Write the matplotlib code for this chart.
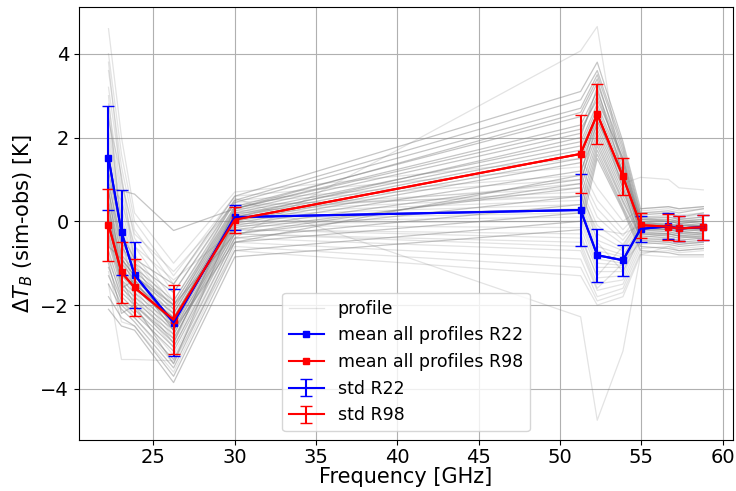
import numpy as np
import matplotlib
matplotlib.use("Agg")
import matplotlib.pyplot as plt

freq = [22.24, 23.04, 23.84, 26.24, 30.0, 51.26, 52.28, 53.86, 54.94, 56.66, 57.3, 58.8]

mean_r22 = [1.52, -0.26, -1.28, -2.42, 0.10, 0.27, -0.81, -0.93, -0.18, -0.12, -0.17, -0.14]
std_r22 = [1.24, 1.01, 0.78, 0.80, 0.30, 0.86, 0.63, 0.37, 0.31, 0.31, 0.30, 0.30]
mean_r98 = [-0.08, -1.22, -1.58, -2.35, 0.04, 1.61, 2.56, 1.07, -0.09, -0.13, -0.17, -0.14]
std_r98 = [0.86, 0.72, 0.69, 0.82, 0.31, 0.93, 0.72, 0.45, 0.30, 0.31, 0.30, 0.30]

# single profiles, R22 absorption model (lighter bundle)
prof_r22 = [
    [4.6, 2.0, 0.2, -1.0, 0.7, 1.5, 0.8, 0.0, 0.3, 0.35, 0.3, 0.35],
    [4.0, 1.6, 0.0, -1.3, 0.6, 1.3, 0.5, -0.2, 0.25, 0.3, 0.25, 0.3],
    [3.6, 1.3, -0.2, -1.5, 0.5, 1.1, 0.3, -0.35, 0.2, 0.2, 0.15, 0.2],
    [3.2, 1.0, -0.4, -1.7, 0.45, 1.0, 0.1, -0.45, 0.1, 0.15, 0.1, 0.15],
    [2.8, 0.7, -0.6, -1.9, 0.35, 0.8, -0.1, -0.55, 0.05, 0.1, 0.05, 0.1],
    [2.5, 0.5, -0.8, -2.0, 0.3, 0.7, -0.3, -0.65, 0.0, 0.05, 0.0, 0.05],
    [2.2, 0.3, -0.9, -2.1, 0.25, 0.6, -0.45, -0.7, -0.05, 0.0, -0.05, 0.0],
    [2.0, 0.1, -1.0, -2.2, 0.2, 0.5, -0.6, -0.8, -0.1, -0.05, -0.1, -0.05],
    [1.8, 0.0, -1.1, -2.3, 0.15, 0.4, -0.7, -0.85, -0.1, -0.1, -0.15, -0.1],
    [1.6, -0.2, -1.2, -2.4, 0.1, 0.3, -0.8, -0.9, -0.15, -0.1, -0.15, -0.15],
    [1.4, -0.3, -1.3, -2.5, 0.05, 0.2, -0.9, -1.0, -0.2, -0.15, -0.2, -0.15],
    [1.2, -0.5, -1.4, -2.6, 0.0, 0.1, -1.0, -1.05, -0.2, -0.2, -0.25, -0.2],
    [1.0, -0.6, -1.5, -2.7, -0.05, 0.0, -1.1, -1.1, -0.25, -0.25, -0.3, -0.25],
    [0.7, -0.8, -1.6, -2.8, -0.1, -0.15, -1.2, -1.2, -0.3, -0.3, -0.35, -0.3],
    [0.4, -1.0, -1.8, -2.9, -0.2, -0.3, -1.35, -1.3, -0.35, -0.35, -0.4, -0.35],
    [0.1, -1.2, -1.9, -3.0, -0.3, -0.5, -1.5, -1.4, -0.45, -0.4, -0.45, -0.4],
    [-0.3, -1.5, -2.1, -3.2, -0.4, -0.7, -1.65, -1.5, -0.55, -0.5, -0.55, -0.5],
    [-0.8, -1.9, -2.3, -3.4, -0.5, -0.9, -1.8, -1.6, -0.65, -0.6, -0.65, -0.6],
    [-1.2, -2.4, -2.5, -3.6, -0.6, -1.1, -1.9, -1.7, -0.75, -0.7, -0.75, -0.7],
    [-1.5, -3.3, -3.3, -3.33, -0.7, -1.3, -2.0, -1.8, -0.8, -0.85, -0.85, -0.85],
    [3.0, -0.4, -1.7, -2.9, 0.2, 0.9, -0.5, -1.2, -0.4, -0.3, -0.3, -0.35],
    [0.9, 0.5, -0.6, -1.4, -0.2, -0.4, -1.3, -0.6, 0.1, 0.0, 0.05, 0.0],
    [3.8, 0.9, -0.3, -1.2, 0.4, 0.6, -0.2, -0.3, -0.1, -0.2, -0.15, -0.2],
    [2.6, -0.1, -1.3, -2.5, -0.3, -0.6, -1.6, -1.0, -0.5, -0.45, -0.5, -0.5],
    [2.4, 1.1, -1.0, -2.6, -0.4, 4.07, 4.65, 0.9, 1.05, 1.0, 0.8, 0.75],
    [1.1, -0.9, -1.5, -2.2, 0.55, -2.28, -4.75, -3.1, -0.8, -0.6, -0.7, -0.65],
]

# single profiles, R98 absorption model (darker bundle)
prof_r98 = [
    [1.2, -0.3, -0.9, -1.5, 0.6, 3.1, 3.8, 1.9, 0.3, 0.35, 0.3, 0.35],
    [0.9, -0.5, -1.0, -1.7, 0.5, 2.9, 3.6, 1.8, 0.2, 0.25, 0.2, 0.3],
    [0.7, -0.6, -1.1, -1.9, 0.45, 2.7, 3.5, 1.7, 0.15, 0.2, 0.1, 0.2],
    [0.5, -0.8, -1.2, -2.0, 0.35, 2.5, 3.3, 1.6, 0.1, 0.1, 0.05, 0.1],
    [0.3, -0.9, -1.3, -2.1, 0.3, 2.3, 3.1, 1.5, 0.05, 0.05, 0.0, 0.05],
    [0.2, -1.0, -1.4, -2.2, 0.25, 2.1, 3.0, 1.4, 0.0, 0.0, -0.05, 0.0],
    [0.1, -1.1, -1.5, -2.3, 0.2, 1.9, 2.8, 1.3, -0.05, -0.05, -0.1, -0.05],
    [0.0, -1.2, -1.5, -2.3, 0.15, 1.8, 2.7, 1.2, -0.05, -0.1, -0.1, -0.1],
    [-0.1, -1.2, -1.6, -2.4, 0.1, 1.7, 2.6, 1.1, -0.1, -0.1, -0.15, -0.1],
    [-0.2, -1.3, -1.6, -2.4, 0.05, 1.6, 2.5, 1.05, -0.1, -0.15, -0.2, -0.15],
    [-0.3, -1.4, -1.7, -2.5, 0.0, 1.5, 2.4, 1.0, -0.15, -0.2, -0.2, -0.2],
    [-0.4, -1.5, -1.8, -2.6, -0.05, 1.4, 2.3, 0.9, -0.2, -0.2, -0.25, -0.2],
    [-0.5, -1.6, -1.9, -2.7, -0.1, 1.2, 2.2, 0.8, -0.2, -0.25, -0.3, -0.25],
    [-0.7, -1.7, -2.0, -2.8, -0.15, 1.0, 2.1, 0.7, -0.25, -0.3, -0.35, -0.3],
    [-0.9, -1.8, -2.1, -3.0, -0.2, 0.8, 2.0, 0.6, -0.3, -0.35, -0.4, -0.35],
    [-1.1, -1.9, -2.2, -3.1, -0.3, 0.6, 1.9, 0.5, -0.35, -0.4, -0.45, -0.4],
    [-1.3, -2.0, -2.3, -3.3, -0.4, 0.4, 1.8, 0.45, -0.4, -0.45, -0.5, -0.45],
    [-1.5, -2.1, -2.4, -3.5, -0.5, 0.2, 1.7, 0.35, -0.5, -0.55, -0.6, -0.55],
    [-1.8, -2.3, -2.5, -3.7, -0.7, 0.0, 1.6, 0.3, -0.6, -0.65, -0.7, -0.65],
    [-2.1, -2.5, -2.6, -3.85, -0.85, -0.2, 1.5, 0.25, -0.7, -0.75, -0.8, -0.8],
    [0.8, -1.4, -2.0, -2.9, 0.3, 2.6, 3.4, 1.4, -0.1, -0.2, -0.25, -0.3],
    [-0.6, -0.9, -1.3, -2.0, -0.3, 0.9, 2.4, 1.2, 0.05, 0.0, -0.05, 0.0],
    [0.8, 0.73, 0.65, -0.22, 0.3, 2.2, 2.9, 1.5, 0.0, -0.1, -0.1, -0.1],
    [-1.0, -2.2, -2.0, -3.4, 0.1, 2.0, 3.2, 1.1, -0.3, -0.3, -0.35, -0.4],
    [0.4, -1.6, -1.4, -2.6, -0.5, 1.1, 2.6, 0.8, -0.45, -0.5, -0.55, -0.5],
]

fig, ax = plt.subplots(figsize=(7.36, 4.91), dpi=100)
fig.subplots_adjust(left=0.107, right=0.996, bottom=0.104, top=0.986)

for i, p in enumerate(prof_r22):
    ax.plot(freq, p, color='grey', alpha=0.22, lw=0.9, label='profile' if i == 0 else None)
for p in prof_r98:
    ax.plot(freq, p, color='grey', alpha=0.45, lw=0.9)

ax.plot(freq, mean_r22, 's-', color='blue', ms=4, lw=1.5, label='mean all profiles R22')
ax.plot(freq, mean_r98, 's-', color='red', ms=4, lw=1.5, label='mean all profiles R98')
ax.errorbar(freq, mean_r22, yerr=std_r22, color='blue', capsize=4, lw=1.5, label='std R22')
ax.errorbar(freq, mean_r98, yerr=std_r98, color='red', capsize=4, lw=1.5, label='std R98')

ax.set_xlabel('Frequency [GHz]', fontsize=15, labelpad=0)
ax.set_ylabel(r'$\Delta T_B$ (sim-obs) [K]', fontsize=15)
ax.tick_params(labelsize=14)
ax.tick_params(axis='x', pad=2)
ax.grid(True)
ax.legend(loc='lower center', fontsize=12.5)

plt.savefig('out.png')
